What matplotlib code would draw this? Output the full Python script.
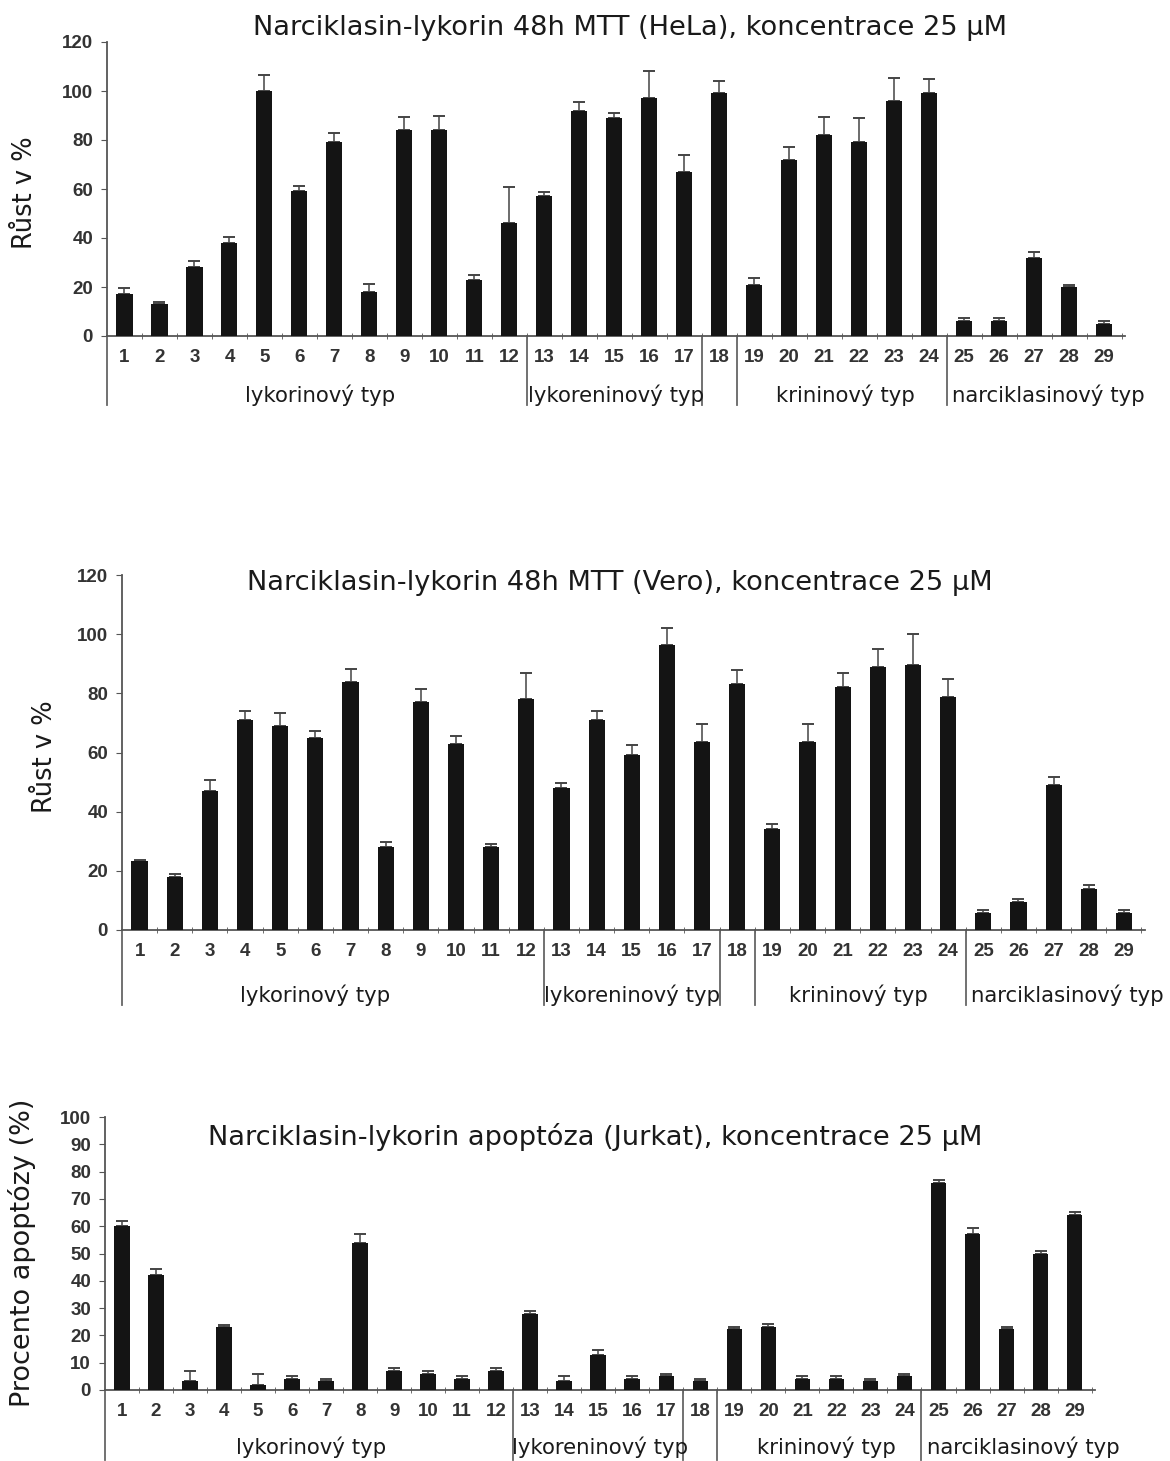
import matplotlib
matplotlib.use("Agg")
import matplotlib.pyplot as plt
import numpy as np

# cisla latek 1..29
latky = [str(i) for i in range(1, 30)]

# HeLa MTT, rust v %
hela = [17, 13, 28, 38, 100, 59, 79, 18, 84, 84, 23, 46, 57, 92, 89, 97, 67, 99, 21, 72, 82, 79, 96, 99, 6, 6, 32, 20, 5]
hela_sd = [2.5, 0.7, 2.7, 2.3, 6.4, 2.4, 3.8, 3.1, 5.2, 5.7, 1.7, 15, 1.6, 3.4, 2, 11, 7, 5, 2.6, 5.2, 7.2, 10, 9.2, 6, 1.4, 1.3, 2.4, 1, 1.2]

# Vero MTT, rust v %
vero = [23.3, 18, 47, 71, 69, 65, 84, 28, 77, 63, 28, 78, 48, 71, 59, 96.5, 63.5, 83, 34, 63.5, 82, 89, 89.6, 78.7, 5.6, 9.5, 49, 14, 5.6]
vero_sd = [0.3, 0.9, 3.7, 3, 4.5, 2.2, 4.3, 1.7, 4.5, 2.7, 1.1, 9, 1.7, 3, 3.5, 5.6, 6.1, 4.9, 2, 6.1, 4.9, 6, 10.4, 6.1, 1.3, 1.1, 2.7, 1.1, 1.3]

# Jurkat apoptoza v %
jurkat = [60, 42, 3.2, 23, 2, 4.2, 3.2, 54, 6.9, 6, 4.2, 6.9, 28, 3.2, 12.7, 4.2, 5, 3.2, 22.2, 23, 4.2, 4.2, 3.2, 5, 76, 57, 22.2, 50, 64.2]
jurkat_sd = [1.9, 2.2, 3.7, 0.9, 4, 0.8, 0.9, 3, 1, 0.9, 0.8, 1, 1, 2.1, 1.8, 1, 1, 1, 0.8, 1, 1, 1, 1, 1, 1.1, 2.5, 0.8, 1, 1]

# skupiny latek
skupiny = ["lykorinový typ", "lykoreninový typ", "krininový typ", "narciklasinový typ"]
hranice = [12.5, 17.5, 18.5, 24.5]

W, H = 1170, 1461
fig = plt.figure(figsize=(W / 100, H / 100), dpi=100)

GREY = "#555555"
TXT = "#1a1a1a"


def panel(box, hodnoty, sd, ymax, ystep, titul, titul_pos, ylab, ylab_x, ylab_fs,
          line_bot, grp_y, grp_x):
    x0, x1, y0, y1 = box  # pixely: leva, prava, spodek (0), vrsek (ymax)
    ax = fig.add_axes([x0 / W, 1 - y0 / H, (x1 - x0) / W, (y0 - y1) / H])
    x = np.arange(1, 30)
    ax.bar(x, hodnoty, width=0.46, color="#141414", zorder=3)
    ax.errorbar(x, hodnoty, yerr=[np.zeros(29), sd], fmt="none",
                ecolor="#444444", elinewidth=1.1, capsize=4, capthick=1.4, zorder=2)
    ax.set_xlim(0.5, 29.6)
    ax.set_ylim(0, ymax)
    for s in ["top", "right"]:
        ax.spines[s].set_visible(False)
    for s in ["left", "bottom"]:
        ax.spines[s].set_color(GREY)
        ax.spines[s].set_linewidth(1.3)
    ax.set_yticks(np.arange(0, ymax + 1, ystep))
    ax.set_xticks(x)
    ax.set_xticklabels(latky)
    ax.set_xticks(np.arange(1.5, 30, 1), minor=True)
    ax.tick_params(axis="x", which="major", length=0, pad=9)
    ax.tick_params(axis="x", which="minor", length=5, direction="inout", color=GREY)
    ax.tick_params(axis="y", length=4, color=GREY, pad=6)
    for lab in ax.get_xticklabels() + ax.get_yticklabels():
        lab.set_fontfamily("Liberation Sans")
        lab.set_fontweight("bold")
        lab.set_fontsize(13.5)
        lab.set_color("#333333")

    tr = ax.get_xaxis_transform()
    for xx in [0.5] + hranice:
        ax.plot([xx, xx], [0, line_bot], transform=tr, color="#666666",
                lw=1.3, clip_on=False)
    for name, gx in zip(skupiny, grp_x):
        ha = "left" if name == "narciklasinový typ" else "center"
        ax.text(gx, grp_y, name, transform=tr, ha=ha, va="center",
                fontsize=15.3, color=TXT, family="DejaVu Sans")

    fig.text(titul_pos[0] / W, 1 - titul_pos[1] / H, titul, ha="center", va="center",
             fontsize=19.6, color=TXT, family="DejaVu Sans")
    fig.text(ylab_x / W, 1 - ylab[1] / H, ylab[0], rotation=90, ha="center",
             va="center", fontsize=ylab_fs, color=TXT, family="DejaVu Sans")
    return ax


panel((107, 1125, 336, 42), hela, hela_sd, 120, 20,
      "Narciklasin-lykorin 48h MTT (HeLa), koncentrace 25 µM", (630, 28),
      ("Růst v %", 193), 25, 18.5, -0.235, -0.20, [6.6, 15.05, 21.6, 24.65])

panel((122, 1145, 930, 575), vero, vero_sd, 120, 20,
      "Narciklasin-lykorin 48h MTT (Vero), koncentrace 25 µM", (620, 583),
      ("Růst v %", 757), 45, 18.5, -0.211, -0.183, [6.0, 15.0, 21.45, 24.65])

panel((105, 1095, 1390, 1117), jurkat, jurkat_sd, 100, 10,
      "Narciklasin-lykorin apoptóza (Jurkat), koncentrace 25 µM", (595, 1137),
      ("Procento apoptózy (%)", 1253), 22, 19.5, -0.256, -0.209, [6.56, 15.06, 21.7, 24.65])

fig.savefig("out.png", dpi=100, facecolor="white")
